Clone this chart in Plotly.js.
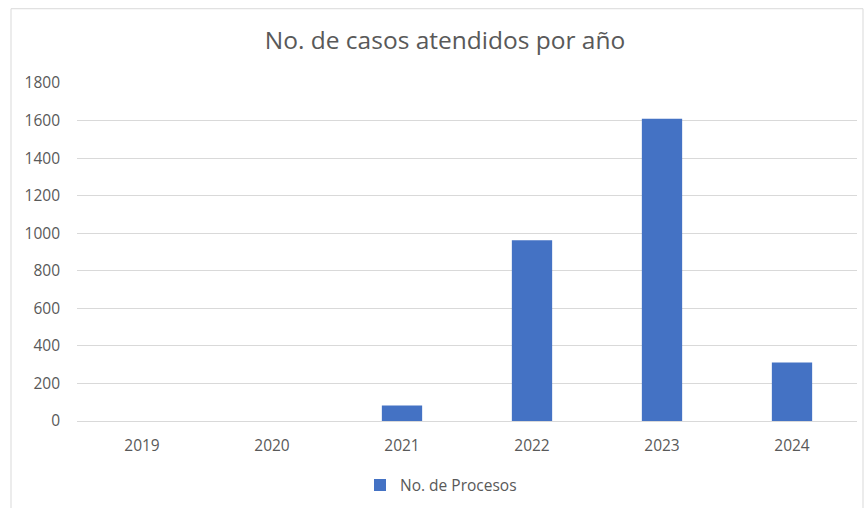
<!DOCTYPE html>
<html>
<head>
<meta charset="utf-8">
<script src="https://cdn.plot.ly/plotly-3.0.1.min.js"></script>
<style>html,body{margin:0;padding:0;background:#fff;}#chart{width:868px;height:508px;}</style>
</head>
<body>
<div id="chart"></div>
<script>
const years = ["2019", "2020", "2021", "2022", "2023", "2024"];
const procesos = [0, 0, 82, 962, 1610, 312];
const seriesName = "No. de Procesos";
const yTicks = [0, 200, 400, 600, 800, 1000, 1200, 1400, 1600, 1800];

const font = "'Open Sans', sans-serif";
const L = 77, R = 11, T = 82.5, B = 86.5, W = 868, H = 508;
const pw = W - L - R, ph = H - T - B;
function px2x(p){ return (p - L) / pw; }
function py2y(p){ return (H - B - p) / ph; }

Plotly.newPlot("chart", [{
  type: "bar",
  x: years,
  y: procesos,
  name: seriesName,
  marker: {color: "#4472C4", line: {width: 0}},
  showlegend: true,
  hoverinfo: "x+y"
}], {
  width: W, height: H,
  margin: {l: L, r: R, t: T, b: B, pad: 0, autoexpand: false},
  paper_bgcolor: "#fff", plot_bgcolor: "#fff",
  title: {text: "No. de casos atendidos por año", font: {family: font, size: 24.5, color: "#595959"},
          x: px2x(445), xref: "paper", xanchor: "center", y: 1 - 40/H, yanchor: "middle"},
  bargap: 0.69,
  xaxis: {type: "category", tickfont: {family: font, size: 15.5, color: "#595959"},
          showgrid: false, zeroline: false, showline: false, ticks: "", ticklen: 0,
          ticklabelstandoff: 13},
  yaxis: {range: [0, 1800], tickvals: yTicks, ticktext: yTicks.map(String),
          tickfont: {family: font, size: 15.5, color: "#595959"},
          showgrid: true, gridcolor: "#d9d9d9", gridwidth: 1, zeroline: true, zerolinecolor: "#d9d9d9",
          showline: false, ticks: "", ticklabelstandoff: 16},
  showlegend: true,
  legend: {orientation: "h", x: px2x(441), xanchor: "center", y: py2y(486), yanchor: "middle",
           font: {family: font, size: 15.5, color: "#595959"}, bgcolor: "rgba(0,0,0,0)"},
  shapes: [{type: "rect", xref: "paper", yref: "paper", x0: px2x(11), x1: px2x(863), y0: py2y(530), y1: py2y(8),
            line: {color: "#d9d9d9", width: 1}, fillcolor: "rgba(0,0,0,0)", layer: "below"}]
}, {displayModeBar: false, staticPlot: true});
</script>
</body>
</html>
